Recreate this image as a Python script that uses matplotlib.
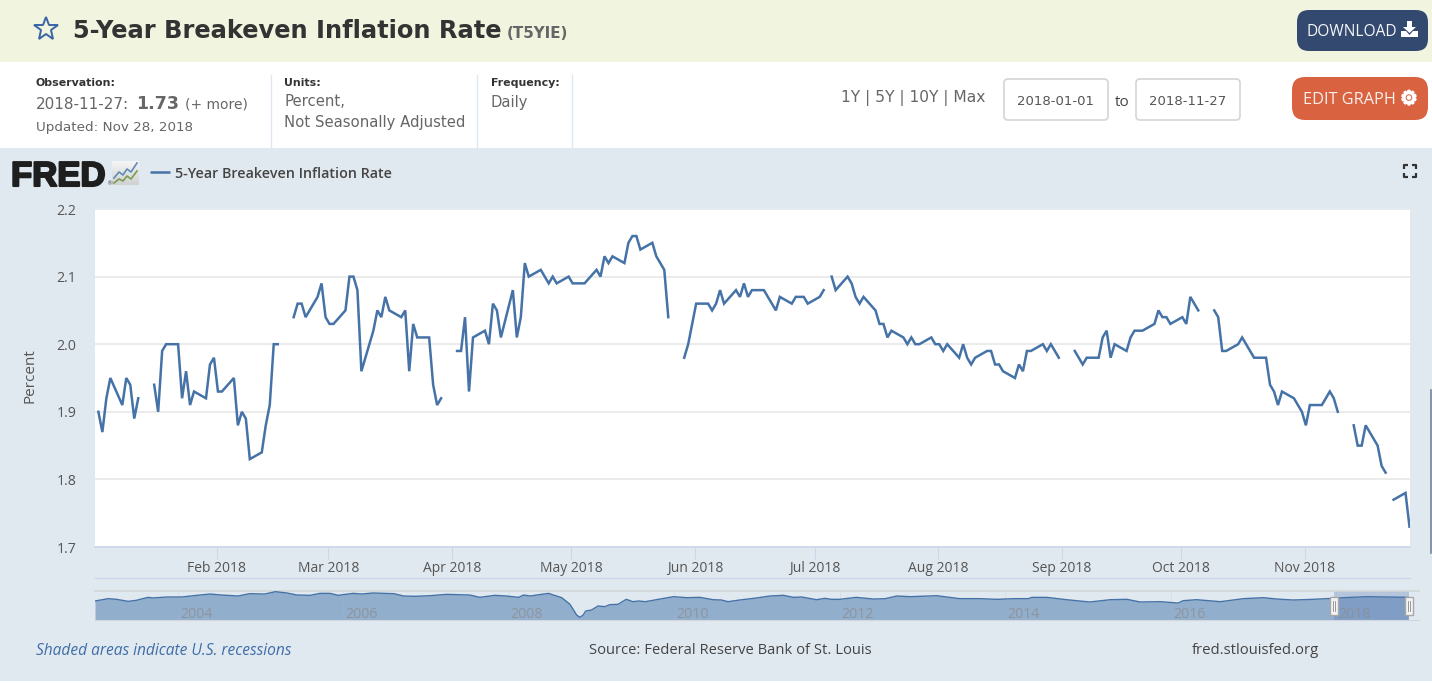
import matplotlib
matplotlib.use("Agg")
import matplotlib.pyplot as plt
import matplotlib.dates as mdates
import matplotlib.patheffects as pe
from matplotlib.colors import LinearSegmentedColormap
from matplotlib.patches import FancyBboxPatch, Rectangle, Polygon
import numpy as np
import pandas as pd

# Daily T5YIE readings by month (percent); None marks market holidays
jan = [1.90, 1.87, 1.92, 1.95, 1.91, 1.95, 1.94, 1.89, 1.92, None, 1.94, 1.90, 1.99, 2.00,
       2.00, 1.92, 1.96, 1.91, 1.93, 1.92, 1.97, 1.98]
feb = [1.93, 1.93, 1.95, 1.88, 1.90, 1.89, 1.83, 1.84, 1.88, 1.91, 2.00, 2.00,
       None, 2.04, 2.06, 2.06, 2.04, 2.07, 2.09, 2.04]
mar = [2.03, 2.03, 2.05, 2.10, 2.10, 2.08, 1.96, 2.02, 2.05, 2.04, 2.07, 2.05,
       2.04, 2.05, 1.96, 2.03, 2.01, 2.01, 1.94, 1.91, 1.92, None]
apr = [1.99, 1.99, 2.04, 1.93, 2.01, 2.02, 2.00, 2.06, 2.05, 2.01,
       2.08, 2.01, 2.04, 2.12, 2.10, 2.11, 2.10, 2.09, 2.10, 2.09, 2.10]
may = [2.09, 2.09, 2.09, 2.09, 2.11, 2.10, 2.13, 2.12, 2.13, 2.12, 2.15, 2.16, 2.16, 2.14,
       2.15, 2.13, 2.12, 2.11, 2.04, None, 1.98, 2.00, 2.03]
jun = [2.06, 2.06, 2.05, 2.06, 2.08, 2.06, 2.08, 2.07, 2.09, 2.07, 2.08,
       2.08, 2.07, 2.06, 2.05, 2.07, 2.06, 2.07, 2.07, 2.07, 2.06]
jul = [2.07, 2.08, None, 2.10, 2.08, 2.10, 2.09, 2.07, 2.06, 2.07, 2.05, 2.03, 2.03, 2.01, 2.02,
       2.01, 2.00, 2.01, 2.00, 2.00, 2.01, 2.00]
aug = [2.00, 1.99, 2.00, 1.98, 2.00, 1.98, 1.97, 1.98, 1.99, 1.99, 1.97, 1.97, 1.96,
       1.95, 1.97, 1.96, 1.99, 1.99, 2.00, 1.99, 2.00, 1.99, 1.98]
sep = [None, 1.99, 1.98, 1.97, 1.98, 1.98, 2.01, 2.02, 1.98, 2.00,
       1.99, 2.01, 2.02, 2.02, 2.02, 2.03, 2.05, 2.04, 2.04, 2.03]
oct_ = [2.04, 2.03, 2.07, 2.06, 2.05, None, 2.05, 2.04, 1.99, 1.99, 2.00, 2.01, 2.00, 1.99, 1.98,
        1.98, 1.94, 1.93, 1.91, 1.93, 1.92, 1.91, 1.90]
nov = [1.88, 1.91, 1.91, 1.92, 1.93, 1.92, 1.90, None, 1.88, 1.85, 1.85, 1.88,
       1.85, 1.82, 1.81, None, 1.77, 1.78, 1.73]

month_starts = ["2018-02-01", "2018-03-01", "2018-04-01", "2018-05-01", "2018-06-01",
                "2018-07-01", "2018-08-01", "2018-09-01", "2018-10-01", "2018-11-01"]
month_labels = ["Feb 2018", "Mar 2018", "Apr 2018", "May 2018", "Jun 2018",
                "Jul 2018", "Aug 2018", "Sep 2018", "Oct 2018", "Nov 2018"]
y_ticks = [1.7, 1.8, 1.9, 2.0, 2.1, 2.2]

# Full-history series behind the range navigator (decimal year, percent)
overview_years = [2003.00, 2003.16, 2003.26, 2003.40, 2003.50, 2003.64, 2003.70, 2003.87, 2004.05, 2004.19,
                  2004.39, 2004.53, 2004.73, 2004.87, 2005.05, 2005.18, 2005.32, 2005.44, 2005.60, 2005.72,
                  2005.84, 2005.94, 2006.12, 2006.22, 2006.36, 2006.61, 2006.73, 2006.87, 2007.05, 2007.25,
                  2007.53, 2007.65, 2007.83, 2007.97, 2008.12, 2008.18, 2008.26, 2008.34, 2008.48, 2008.54,
                  2008.64, 2008.74, 2008.82, 2008.86, 2008.90, 2008.93, 2009.00, 2009.08, 2009.16, 2009.22,
                  2009.32, 2009.42, 2009.50, 2009.57, 2009.65, 2009.83, 2009.99, 2010.15, 2010.31, 2010.47,
                  2010.57, 2010.65, 2010.79, 2010.96, 2011.16, 2011.32, 2011.44, 2011.54, 2011.72, 2011.82,
                  2011.90, 2012.00, 2012.20, 2012.32, 2012.41, 2012.55, 2012.69, 2012.85, 2013.17, 2013.45,
                  2013.69, 2013.90, 2014.10, 2014.28, 2014.32, 2014.50, 2014.74, 2015.02, 2015.27, 2015.47,
                  2015.63, 2015.87, 2016.09, 2016.15, 2016.31, 2016.60, 2016.88, 2017.12, 2017.28, 2017.48,
                  2017.72, 2017.96, 2018.09, 2018.37, 2018.87]
overview_vals = [1.06, 1.51, 1.38, 0.99, 1.19, 1.76, 1.64, 1.83, 1.83, 2.08,
                 2.40, 2.21, 2.02, 2.47, 2.40, 2.85, 2.60, 2.21, 2.15, 2.53,
                 2.53, 2.15, 2.53, 2.40, 2.60, 2.47, 2.02, 1.96, 2.08, 2.34,
                 2.21, 1.76, 2.15, 2.02, 1.76, 2.21, 2.02, 2.21, 2.53, 2.21,
                 1.70, 0.42, -1.63, -2.08, -1.63, -0.87, -0.67, 0.10, -0.03, 0.35,
                 0.42, 1.38, 0.93, 1.06, 0.93, 1.44, 1.89, 1.70, 1.76, 1.31,
                 1.25, 0.93, 1.25, 1.57, 2.02, 2.15, 1.76, 1.83, 1.31, 1.57,
                 1.38, 1.38, 1.76, 1.57, 1.44, 1.51, 2.02, 1.89, 2.08, 1.51,
                 1.51, 1.38, 1.51, 1.51, 1.76, 1.76, 1.31, 0.87, 1.31, 1.38,
                 0.87, 0.93, 0.67, 1.12, 1.31, 0.93, 1.51, 1.70, 1.44, 1.25,
                 1.38, 1.57, 1.70, 1.89, 1.76]
overview_ticks = [2004, 2006, 2008, 2010, 2012, 2014, 2016, 2018]

W, H = 1432, 683
LINE = "#4572a7"
PAGE = "#e1e9f0"
BODY = "DejaVu Sans"
CHART = "Open Sans"

fig = plt.figure(figsize=(W / 100, H / 100), dpi=100, facecolor="white")


def axes_from_pixels(left, top, right, bottom, **kw):
    return fig.add_axes([left / W, 1 - bottom / H, (right - left) / W, (bottom - top) / H], **kw)


# Page furniture is laid out on a pixel grid covering the whole figure
page = fig.add_axes([0, 0, 1, 1], zorder=0)
page.axis("off")


def box(x0, y0, x1, y1, color, **kw):
    page.add_patch(Rectangle((x0, y0), x1 - x0, y1 - y0, facecolor=color, edgecolor="none", **kw))


def rounded(x0, y0, x1, y1, radius, face, edge="none", lw=0):
    page.add_patch(FancyBboxPatch((x0 + radius, y0 + radius), x1 - x0 - 2 * radius, y1 - y0 - 2 * radius,
                                  boxstyle=f"round,pad={radius},rounding_size={radius}",
                                  facecolor=face, edgecolor=edge, linewidth=lw))


def label(x, y, s, size, color="#666666", family=BODY, weight="normal", ha="left", style="normal", **kw):
    return page.text(x, y, s, fontsize=size, color=color, family=family, fontweight=weight,
                     ha=ha, va="center_baseline", fontstyle=style, **kw)


box(0, 0, W, 62, "#f1f4de")
box(0, 148, W, 681, PAGE)
for x in (271, 477, 572):
    page.plot([x, x], [75, 148], color="#dde7f2", lw=1)

# Title bar
page.plot([46], [29], marker="*", ms=18, mfc="none", mec="#3a64a5", mew=1.4)
label(73, 28.5, "5-Year Breakeven Inflation Rate", 17.4, "#333333", weight="bold")
label(507, 32.5, "(T5YIE)", 10.9, "#666666", weight="bold")

rounded(1297, 10, 1428, 51, 12, "#34496f")
label(1306, 30.5, "DOWNLOAD", 11.2, "#f4f6f9", family=CHART)
page.add_patch(Polygon([(1407, 21), (1412, 21), (1412, 27), (1416, 27), (1409.5, 33), (1403, 27), (1407, 27)],
                       facecolor="white", edgecolor="none"))
page.add_patch(Polygon([(1401, 31), (1406, 31), (1409.5, 35), (1413, 31), (1418, 31), (1418, 37), (1401, 37)],
                       facecolor="white", edgecolor="none"))

# Observation summary
label(36, 82, "Observation:", 7.9, "#333333", weight="bold")
label(36, 103, "2018-11-27:", 11, "#666666")
label(136, 102, "1.73", 12.6, "#666666", weight="bold")
label(185, 103, "(+ more)", 10, "#666666")
label(36, 126, "Updated: Nov 28, 2018", 9.7, "#666666")
label(284, 82, "Units:", 7.9, "#333333", weight="bold")
label(284, 100.5, "Percent,", 10.7, "#666666")
label(284, 121.5, "Not Seasonally Adjusted", 10.7, "#666666")
label(491, 82, "Frequency:", 7.9, "#333333", weight="bold")
label(491, 100.5, "Daily", 10.6, "#666666")

label(841, 96, "1Y | 5Y | 10Y | Max", 11.2, "#666666")
rounded(1004, 79, 1108, 120, 4, "white", "#d4d4d4", 1.2)
rounded(1136, 79, 1240, 120, 4, "white", "#d4d4d4", 1.2)
label(1056, 100, "2018-01-01", 9.5, "#555555", ha="center")
label(1187.5, 100, "2018-11-27", 9.5, "#555555", ha="center")
label(1122, 100, "to", 11, "#444444", family=CHART, ha="center")
rounded(1292, 77, 1428, 120, 13, "#d96341")
label(1303, 98, "EDIT GRAPH", 11.7, "#f8f0ec", family=CHART)
label(1409, 97, "\u2699", 14, "white", ha="center", weight="bold",
      path_effects=[pe.withStroke(linewidth=1.2, foreground="white")])

# Logo, legend and full-screen control
label(11, 173, "FRED", 25, "#1e1e1e", family="Liberation Sans", weight="bold",
      path_effects=[pe.withStroke(linewidth=1.5, foreground="#1e1e1e")])
label(106.5, 183, "\u00ae", 4.5, "#444444")
icon_shade = LinearSegmentedColormap.from_list("icon_shade", ["#f4f5f4", "#cfd2d0"])
page.imshow(np.linspace(0, 1, 24).reshape(-1, 1), extent=(112, 139, 185, 161), aspect="auto", cmap=icon_shade, zorder=1)
page.plot([114, 119, 123, 127, 131, 137], [178, 172, 175, 169, 172, 163], color="#5e8bb8", lw=1.2, zorder=2)
page.plot([114, 119, 123, 127, 131, 137], [183, 179, 181, 176, 179, 171], color="#7d9a55", lw=1.2, zorder=2)
page.plot([150, 170], [172, 172], color=LINE, lw=1.8, solid_capstyle="butt")
label(175, 173, "5-Year Breakeven Inflation Rate", 10.3, "#444444", family=CHART, weight="semibold")
for cx, cy, dx, dy in [(1404, 165, 1, 1), (1416, 165, -1, 1), (1404, 177, 1, -1), (1416, 177, -1, -1)]:
    page.plot([cx + 4 * dx, cx, cx], [cy, cy, cy + 4 * dy], color="#333333", lw=1.6, solid_capstyle="butt")

# Footer
label(36, 649, "Shaded areas indicate U.S. recessions", 11.2, "#3f6da8", family=CHART, style="italic")
label(589, 649, "Source: Federal Reserve Bank of St. Louis", 10.6, "#444444", family=CHART)
label(1192, 649, "fred.stlouisfed.org", 10.75, "#444444", family=CHART)
page.plot([1430.7, 1430.7], [390, 553], color="#76869b", lw=1.2)
page.plot([95, 1410], [578, 578], color="#ccd6eb", lw=1)
page.set_xlim(0, W)
page.set_ylim(H, 0)

# Main time series
values = jan + feb + mar + apr + may + jun + jul + aug + sep + oct_ + nov
dates = pd.bdate_range("2018-01-02", "2018-11-27")
series = np.array([np.nan if v is None else v for v in values], dtype=float)

ax = axes_from_pixels(95, 209, 1410, 547, zorder=2)
ax.set_facecolor("white")
ax.plot(dates, series, color=LINE, lw=1.8, solid_joinstyle="miter", clip_on=True)
day0 = mdates.date2num(pd.Timestamp("2018-01-02"))
day1 = mdates.date2num(pd.Timestamp("2018-11-27"))
ax.set_xlim(day0 - 0.85, day1 + 0.125)
ax.set_ylim(1.7, 2.2)
ax.set_yticks(y_ticks)
ax.set_yticklabels([f"{t:.1f}" for t in y_ticks], family=CHART, fontsize=10.2, color="#555555")
ax.set_xticks(mdates.date2num(pd.to_datetime(month_starts)) - 0.3)
ax.set_xticklabels(month_labels, family=CHART, fontsize=10, color="#555555")
ax.tick_params(axis="y", length=0, pad=13.5)
ax.tick_params(axis="x", length=8.6, width=0.8, color="#ccd6eb", pad=1.5)
ax.grid(axis="y", color="#e6e6e6", lw=1.1)
ax.set_axisbelow(True)
for name, spine in ax.spines.items():
    spine.set_visible(name == "bottom")
ax.spines["bottom"].set_color("#ccd6eb")
ax.spines["bottom"].set_linewidth(1.2)
label(28, 376, "Percent", 11, "#555555", family=CHART, ha="center", rotation=90, rotation_mode="anchor")

# Range navigator strip
nav = axes_from_pixels(95, 590.5, 1410, 620.5, zorder=2)
nav.patch.set_alpha(0)
nav.fill_between(overview_years, overview_vals, -2.69, color="#92aecd", lw=0, zorder=1)
nav.plot(overview_years, overview_vals, color=LINE, lw=1, zorder=3)
nav.set_xlim(2003.0, 2003.0 + 1315 / 82.75)
nav.set_ylim(-2.69, 3.08)
nav.axis("off")
for yr in overview_ticks:
    nav.axvline(yr, color="#a4b8cf", lw=0.5, alpha=0.25, zorder=2)
    nav.text(yr + 0.22, -1.55, str(yr), fontsize=10.2, family=CHART, color="#8c8c8c", alpha=0.75,
             ha="center", va="center", zorder=4)
sel0, sel1 = 2003.0 + (1334 - 95) / 82.75, 2003.0 + (1409 - 95) / 82.75
nav.axvspan(sel0, sel1, color="#5d7fb5", alpha=0.33, lw=0, zorder=2)
nav.plot([2003.0, 2019.0], [3.0, 3.0], color="#d2d6d8", lw=1.2, zorder=2, clip_on=False)
nav.plot([2003.0, 2019.0], [-2.66, -2.66], color="#cfd6dd", lw=0.8, zorder=2, clip_on=False)

# Navigator drag handles, drawn above the strip
top = fig.add_axes([0, 0, 1, 1], zorder=3)
top.set_xlim(0, W)
top.set_ylim(H, 0)
top.axis("off")
for hx in (1334, 1409):
    top.add_patch(Rectangle((hx - 4, 597), 8, 18, facecolor="#f4f4f4", edgecolor="#a8a8a8", lw=1))
    for off in (-1, 1):
        top.plot([hx + off, hx + off], [601, 611], color="#8a8a8a", lw=0.6)

fig.savefig("out.png", dpi=100)
